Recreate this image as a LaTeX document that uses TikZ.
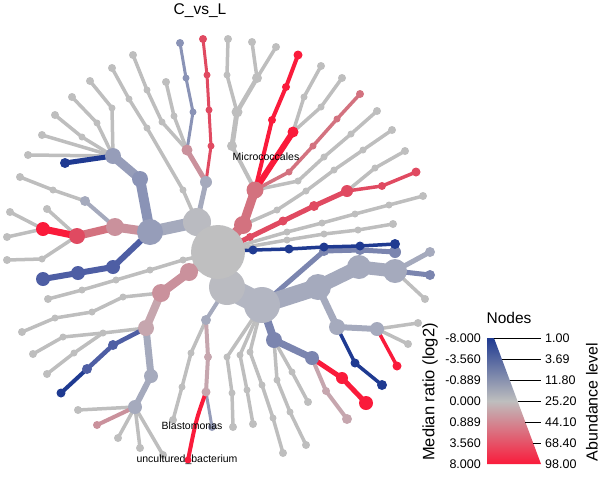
\documentclass[tikz,border=0pt]{standalone}
\usepackage{fontspec}
\setmainfont{Liberation Sans}
\usetikzlibrary{backgrounds}

\definecolor{cgray}{HTML}{BEBEBE}
\definecolor{croot}{HTML}{BFBFC0}
\definecolor{chubA}{HTML}{BABBC1}
\definecolor{chubB}{HTML}{B3B6C2}
\definecolor{cslA}{HTML}{A5AABD}
\definecolor{cslB}{HTML}{969DB9}
\definecolor{cslC}{HTML}{8A93B6}
\definecolor{cslD}{HTML}{7B85AF}
\definecolor{cblA}{HTML}{4E5EA4}
\definecolor{cblB}{HTML}{1F3A91}
\definecolor{cpkA}{HTML}{C6A6AE}
\definecolor{cpkB}{HTML}{CA919C}
\definecolor{cpkC}{HTML}{D3727F}
\definecolor{cpkD}{HTML}{E04A61}
\definecolor{cred}{HTML}{FA1B3B}

\tikzset{
  tn/.style={circle, fill=#1, inner sep=0pt, minimum size=7pt},
  lf/.style={tn=#1, minimum size=8pt},
  ed/.style={draw=#1, line width=3.5pt},
  tick/.style={draw=black, line width=0.8pt},
  lnum/.style={inner sep=0pt, font=\fontsize{12.5}{14}\selectfont},
  lbig/.style={inner sep=0pt, font=\fontsize{16.5}{19}\selectfont},
  tlab/.style={inner sep=0pt, font=\fontsize{10.5}{12}\selectfont},
}

\begin{document}
\begin{tikzpicture}[x=1pt,y=-1pt]
\useasboundingbox (0,0) rectangle (600,483);

\node[font=\fontsize{15.5}{18}\selectfont, anchor=base] (title) at (200,14) {C\_vs\_L};

% big hubs
\node[tn=chubA, minimum size=28pt] (a0) at (197,222) {};
\node[tn=chubA, minimum size=36pt] (b1) at (227,287) {};
\node[tn=croot, minimum size=54pt] (r0) at (218,252) {};
\node[tn=chubB, minimum size=36pt] (b2) at (262,305) {};

% upper left, under a0
\node[tn=cslA, minimum size=12pt] (a1) at (206,182) {};
\node[tn=cpkB, minimum size=11pt] (p1) at (187,150) {};
\node[tn=cslC] (p2) at (193,112) {}; \node[tn=cslC] (p3) at (186,78) {}; \node[lf=cslC] (p4) at (180,43) {};
\node[tn=cgray] (p5) at (174,116) {}; \node[lf=cgray] (p6) at (166,82) {};
\node[tn=cgray] (p7) at (162,122) {}; \node[tn=cgray] (p8) at (147,90) {}; \node[lf=cgray] (p9) at (133,55) {};
\node[tn=cpkD] (a2) at (211,146) {}; \node[tn=cpkD] (a3) at (209,110) {}; \node[tn=cpkD] (a4) at (207,75) {}; \node[lf=cpkD] (a5) at (203,39) {};
\node[tn=cgray] (a6) at (183,190) {}; \node[tn=cgray] (a7) at (147,128) {}; \node[tn=cgray] (a8) at (129,99) {}; \node[lf=cgray] (a9) at (112,68) {};

% left hub
\node[tn=cslB, minimum size=26pt] (l0) at (150,232) {};
\node[tn=cslC, minimum size=16pt] (u1) at (140,179) {};
\node[tn=cslB, minimum size=16pt] (u2) at (113,156) {};
\node[tn=cblB, minimum size=10pt] (u3) at (65,163) {};
\node[lf=cgray] (u4) at (28,155) {}; \node[lf=cgray] (u5) at (42,135) {};
\node[tn=cgray] (u6) at (82,137) {}; \node[lf=cgray] (u7) at (55,115) {};
\node[tn=cgray] (u8) at (97,123) {}; \node[lf=cgray] (u9) at (72,97) {};
\node[tn=cgray] (u10) at (112,108) {}; \node[lf=cgray] (u11) at (90,81) {};
\node[tn=cpkB, minimum size=18pt] (m1) at (115,227) {};
\node[tn=cpkD, minimum size=16pt] (m2) at (77,236) {};
\node[tn=cred, minimum size=14pt] (m3) at (43,229) {};
\node[lf=cgray] (m4) at (10,212) {}; \node[lf=cgray] (m5) at (7,237) {};
\node[lf=cgray] (m6) at (47,209) {};
\node[tn=cgray] (m7) at (42,259) {}; \node[lf=cgray] (m8) at (7,260) {};
\node[tn=cslA, minimum size=10pt] (m9) at (85,201) {};
\node[tn=cgray] (m10) at (53,190) {}; \node[lf=cgray] (m11) at (20,177) {};
\node[tn=cblA, minimum size=14pt] (d1) at (113,267) {};
\node[tn=cblA, minimum size=14pt] (d2) at (78,273) {};
\node[tn=cblA, minimum size=14pt] (d3) at (43,279) {};

% upper right, Micrococcales side
\node[tn=cpkC, minimum size=18pt] (q1) at (243,225) {};
\node[tn=cpkC, minimum size=17pt] (q2) at (255,190) {};
\node[tn=cred, minimum size=11pt] (q3) at (293,132) {};
\node[tn=cgray] (q4) at (304,97) {}; \node[lf=cgray] (q5) at (321,66) {};
\node[tn=cgray] (q6) at (321,107) {}; \node[lf=cgray] (q7) at (342,78) {};
\node[tn=cred, minimum size=8pt] (q8) at (272,120) {}; \node[tn=cred, minimum size=8pt] (q9) at (286,87) {}; \node[tn=cred, minimum size=9pt] (q10) at (298,55) {};
\node[tn=cpkC] (q11) at (289,172) {}; \node[tn=cpkC] (q12) at (313,146) {}; \node[tn=cpkC] (q13) at (337,119) {}; \node[lf=cpkC] (q14) at (360,94) {};
\node[tn=cgray] (q15) at (298,181) {}; \node[tn=cgray] (q16) at (324,157) {}; \node[tn=cgray] (q17) at (351,134) {}; \node[lf=cgray] (q18) at (377,111) {};
\node[tn=cgray] (q19) at (277,210) {}; \node[tn=cgray] (q20) at (306,191) {}; \node[tn=cgray] (q21) at (334,170) {}; \node[tn=cgray] (q22) at (363,150) {}; \node[lf=cgray] (q23) at (392,130) {};
\node[tn=cgray, minimum size=10pt] (t1) at (232,146) {};
\node[tn=cgray, minimum size=11pt] (t2) at (237,112) {};
\node[tn=cgray] (t3) at (227,75) {}; \node[lf=cgray] (t4) at (228,39) {};
\node[tn=cgray, minimum size=10pt] (t5) at (257,78) {}; \node[lf=cgray] (t6) at (252,42) {}; \node[lf=cgray] (t7) at (276,47) {};

% right, from root
\node[tn=cpkD, minimum size=8pt] (e1) at (250,237) {};
\node[tn=cpkD, minimum size=9pt] (e2) at (283,221) {};
\node[tn=cpkD, minimum size=10pt] (e3) at (314,206) {};
\node[tn=cpkD, minimum size=12pt] (e4) at (347,191) {};
\node[tn=cpkD, minimum size=8pt] (e5) at (382,186) {};
\node[tn=cpkD, minimum size=9pt] (e6) at (416,172) {};
\node[tn=cgray] (e7) at (375,168) {}; \node[lf=cgray] (e8) at (405,151) {};
\node[tn=cgray] (h1) at (287,232) {}; \node[tn=cgray] (h2) at (322,223) {}; \node[tn=cgray] (h3) at (355,214) {}; \node[tn=cgray] (h4) at (389,205) {}; \node[lf=cgray] (h5) at (423,196) {};
\node[tn=cgray] (h6) at (287,240) {}; \node[tn=cgray] (h7) at (324,234) {}; \node[tn=cgray] (h8) at (358,230) {}; \node[lf=cgray] (h9) at (393,224) {};
\node[tn=cslD, minimum size=10pt] (w1) at (324,251) {};
\node[tn=cslD, minimum size=10pt] (w2) at (360,250) {};
\node[tn=cslD, minimum size=12pt] (w3) at (395,252) {};
\node[tn=cblB, minimum size=9pt] (n1) at (253,250) {};
\node[tn=cblB, minimum size=9pt] (n2) at (289,249) {};
\node[tn=cblB, minimum size=9pt] (n3) at (324,247) {};
\node[tn=cblB, minimum size=9pt] (n4) at (360,246) {};
\node[tn=cblB, minimum size=10pt] (n5) at (395,244) {};

% lower right, under b2
\node[tn=cslA, minimum size=26pt] (s1) at (318,287) {};
\node[tn=cslA, minimum size=24pt] (s2) at (359,267) {};
\node[tn=cslA, minimum size=24pt] (s3) at (395,271) {};
\node[tn=cslA, minimum size=10pt] (s4) at (430,252) {};
\node[tn=cslD, minimum size=10pt] (s5) at (430,275) {};
\node[lf=cgray] (s6) at (425,299) {};
\node[tn=cslA, minimum size=16pt] (v1) at (337,327) {};
\node[tn=cslA, minimum size=14pt] (v2) at (377,329) {};
\node[tn=cred, minimum size=9pt] (v3) at (397,366) {};
\node[lf=cgray] (v4) at (418,323) {}; \node[lf=cgray] (v5) at (408,344) {};
\node[tn=cblB, minimum size=9pt] (v6) at (355,363) {};
\node[tn=cblB, minimum size=10pt] (v7) at (382,385) {};
\node[tn=cslD, minimum size=16pt] (o1) at (274,340) {};
\node[tn=cslD, minimum size=14pt] (o2) at (312,358) {};
\node[tn=cred, minimum size=12pt] (o3) at (342,378) {};
\node[tn=cred, minimum size=14pt] (o4) at (366,403) {};
\node[tn=cpkA, minimum size=8pt] (o5) at (326,391) {};
\node[tn=cpkA, minimum size=10pt] (o6) at (347,419) {};
\node[tn=cgray] (o7) at (277,380) {}; \node[tn=cgray] (o8) at (290,412) {}; \node[lf=cgray] (o9) at (306,445) {};
\node[tn=cgray] (o10) at (292,372) {}; \node[lf=cgray] (o11) at (308,402) {};
\node[tn=cgray] (f1) at (227,357) {}; \node[tn=cgray] (f2) at (232,393) {}; \node[lf=cgray] (f3) at (233,427) {};
\node[tn=cgray] (f4) at (240,355) {}; \node[tn=cgray] (f5) at (247,390) {}; \node[lf=cgray] (f6) at (253,424) {};
\node[tn=cgray] (f7) at (250,352) {}; \node[tn=cgray] (f8) at (262,385) {}; \node[tn=cgray] (f9) at (273,418) {}; \node[lf=cgray] (f10) at (283,453) {};

% bottom, under b1
\node[tn=cslA, minimum size=10pt] (c1) at (206,320) {};
\node[tn=cpkA, minimum size=8pt] (c2) at (208,357) {};
\node[tn=cpkA, minimum size=9pt] (c3) at (206,392) {};
\node[lf=cslB] (c4) at (212,427) {};
\node[tn=cred] (c5) at (188,460) {};
\node[tn=cgray] (c6) at (191,353) {}; \node[tn=cgray] (c7) at (182,387) {}; \node[lf=cgray] (c8) at (173,420) {};

% lower left
\node[tn=cpkB, minimum size=18pt] (g1) at (189,272) {};
\node[tn=cpkB, minimum size=18pt] (g2) at (161,293) {};
\node[tn=cpkA, minimum size=16pt] (g3) at (146,328) {};
\node[tn=cslA, minimum size=14pt] (g4) at (151,376) {};
\node[tn=cslA, minimum size=14pt] (g5) at (135,407) {};
\node[lf=cpkB] (g6) at (97,425) {};
\node[lf=cgray] (g7) at (78,410) {}; \node[lf=cgray] (g8) at (118,438) {}; \node[lf=cgray] (g9) at (140,448) {}; \node[lf=cgray] (g10) at (163,455) {};
\node[tn=cblA, minimum size=10pt] (g11) at (113,345) {};
\node[tn=cblA, minimum size=10pt] (g12) at (87,369) {};
\node[tn=cblB, minimum size=9pt] (g13) at (61,393) {};
\node[tn=cgray] (g14) at (103,333) {}; \node[tn=cgray] (g15) at (63,337) {}; \node[lf=cgray] (g16) at (33,354) {};
\node[tn=cgray] (g17) at (74,353) {}; \node[lf=cgray] (g18) at (47,374) {};
\node[tn=cgray] (g19) at (123,297) {}; \node[tn=cgray] (g20) at (92,312) {}; \node[tn=cgray] (g21) at (55,318) {}; \node[lf=cgray] (g22) at (22,332) {};
\node[tn=cgray] (g23) at (183,260) {}; \node[tn=cgray] (g24) at (150,270) {}; \node[tn=cgray] (g25) at (116,280) {}; \node[tn=cgray] (g26) at (82,290) {}; \node[lf=cgray] (g27) at (48,299) {};

\begin{scope}[on background layer]
% gray edges first
\draw[ed=cgray] (p1.center) -- (p5.center) -- (p6.center);
\draw[ed=cgray] (p1.center) -- (p7.center) -- (p8.center) -- (p9.center);
\draw[ed=cgray] (a0.center) -- (a6.center) -- (a7.center) -- (a8.center) -- (a9.center);
\draw[ed=cgray] (u2.center) -- (u4.center) (u2.center) -- (u5.center);
\draw[ed=cgray] (u2.center) -- (u6.center) -- (u7.center);
\draw[ed=cgray] (u2.center) -- (u8.center) -- (u9.center);
\draw[ed=cgray] (u2.center) -- (u10.center) -- (u11.center);
\draw[ed=cgray] (m3.center) -- (m4.center) (m3.center) -- (m5.center);
\draw[ed=cgray] (m2.center) -- (m6.center) (m2.center) -- (m7.center) -- (m8.center);
\draw[ed=cgray] (m9.center) -- (m10.center) -- (m11.center);
\draw[ed=cgray] (q3.center) -- (q4.center) -- (q5.center) (q3.center) -- (q6.center) -- (q7.center);
\draw[ed=cgray] (q2.center) -- (q15.center) -- (q16.center) -- (q17.center) -- (q18.center);
\draw[ed=cgray] (q1.center) -- (q19.center) -- (q20.center) -- (q21.center) -- (q22.center) -- (q23.center);
\draw[ed=cgray, line width=4pt] (q2.center) -- (t1.center);
\draw[ed=cgray, line width=5pt] (t1.center) -- (t2.center);
\draw[ed=cgray] (t2.center) -- (t3.center) -- (t4.center);
\draw[ed=cgray, line width=4.5pt] (t2.center) -- (t5.center);
\draw[ed=cgray] (t5.center) -- (t6.center) (t5.center) -- (t7.center);
\draw[ed=cgray] (e4.center) -- (e7.center) -- (e8.center);
\draw[ed=cgray] (r0.center) -- (h1.center) -- (h2.center) -- (h3.center) -- (h4.center) -- (h5.center);
\draw[ed=cgray] (r0.center) -- (h6.center) -- (h7.center) -- (h8.center) -- (h9.center);
\draw[ed=cgray] (s3.center) -- (s6.center);
\draw[ed=cgray] (v2.center) -- (v4.center) (v2.center) -- (v5.center);
\draw[ed=cgray] (o1.center) -- (o7.center) -- (o8.center) -- (o9.center);
\draw[ed=cgray] (o1.center) -- (o10.center) -- (o11.center);
\draw[ed=cgray] (b2.center) -- (f1.center) -- (f2.center) -- (f3.center);
\draw[ed=cgray] (b2.center) -- (f4.center) -- (f5.center) -- (f6.center);
\draw[ed=cgray] (b2.center) -- (f7.center) -- (f8.center) -- (f9.center) -- (f10.center);
\draw[ed=cgray] (c1.center) -- (c6.center) -- (c7.center) -- (c8.center);
\draw[ed=cgray] (g5.center) -- (g7.center) (g5.center) -- (g8.center) (g5.center) -- (g9.center) (g5.center) -- (g10.center);
\draw[ed=cgray] (g3.center) -- (g14.center) -- (g15.center) -- (g16.center);
\draw[ed=cgray] (g14.center) -- (g17.center) -- (g18.center);
\draw[ed=cgray] (g2.center) -- (g19.center) -- (g20.center) -- (g21.center) -- (g22.center);
\draw[ed=cgray] (r0.center) -- (g23.center) -- (g24.center) -- (g25.center) -- (g26.center) -- (g27.center);

% trunk and coloured edges
\draw[ed=chubA, line width=14pt] (r0.center) -- (a0.center);
\draw[ed=chubA, line width=22pt] (r0.center) -- (b1.center);
\draw[ed=chubB, line width=22pt] (b1.center) -- (b2.center);
\draw[ed=cslA, line width=5pt] (a0.center) -- (a1.center);
\draw[ed=cpkB, line width=5pt] (a1.center) -- (p1.center);
\draw[ed=cslC, line width=3pt] (p1.center) -- (p2.center) -- (p3.center) -- (p4.center);
\draw[ed=cpkD, line width=3pt] (a1.center) -- (a2.center) -- (a3.center) -- (a4.center) -- (a5.center);
\draw[ed=cslA, line width=12pt] (a0.center) -- (l0.center);
\draw[ed=cslC, line width=10pt] (l0.center) -- (u1.center);
\draw[ed=cslB, line width=9pt] (u1.center) -- (u2.center);
\draw[ed=cblB, line width=5pt] (u2.center) -- (u3.center);
\draw[ed=cpkB, line width=9pt] (l0.center) -- (m1.center);
\draw[ed=cpkC, line width=8pt] (m1.center) -- (m2.center);
\draw[ed=cred, line width=7pt] (m2.center) -- (m3.center);
\draw[ed=cslA, line width=4pt] (m1.center) -- (m9.center);
\draw[ed=cblA, line width=6pt] (l0.center) -- (d1.center) -- (d2.center) -- (d3.center);
\draw[ed=cpkC, line width=10pt] (r0.center) -- (q1.center);
\draw[ed=cpkC, line width=9pt] (q1.center) -- (q2.center);
\draw[ed=cred, line width=6pt] (q2.center) -- (q3.center);
\draw[ed=cred, line width=4pt] (q2.center) -- (q8.center) -- (q9.center) -- (q10.center);
\draw[ed=cpkC] (q2.center) -- (q11.center) -- (q12.center) -- (q13.center) -- (q14.center);
\draw[ed=cpkD, line width=5pt] (r0.center) -- (e1.center) -- (e2.center) -- (e3.center) -- (e4.center);
\draw[ed=cpkD] (e4.center) -- (e5.center) -- (e6.center);
\draw[ed=cslD, line width=5pt] (b2.center) -- (w1.center) -- (w2.center) -- (w3.center);
\draw[ed=cblB] (r0.center) -- (n1.center) -- (n2.center) -- (n3.center) -- (n4.center) -- (n5.center);
\draw[ed=cslA, line width=17pt] (b2.center) -- (s1.center);
\draw[ed=cslA, line width=14pt] (s1.center) -- (s2.center);
\draw[ed=cslA, line width=13pt] (s2.center) -- (s3.center);
\draw[ed=cslA, line width=5pt] (s3.center) -- (s4.center);
\draw[ed=cslD, line width=5pt] (s3.center) -- (s5.center);
\draw[ed=cslA, line width=7pt] (s1.center) -- (v1.center);
\draw[ed=cslA, line width=6pt] (v1.center) -- (v2.center);
\draw[ed=cred] (v2.center) -- (v3.center);
\draw[ed=cblB] (v1.center) -- (v6.center) -- (v7.center);
\draw[ed=cslD, line width=8pt] (b2.center) -- (o1.center);
\draw[ed=cslD, line width=7pt] (o1.center) -- (o2.center);
\draw[ed=cred, line width=5pt] (o2.center) -- (o3.center) -- (o4.center);
\draw[ed=cpkA, line width=4pt] (o2.center) -- (o5.center) -- (o6.center);
\draw[ed=cslA, line width=4pt] (b1.center) -- (c1.center);
\draw[ed=cpkA, line width=4pt] (c1.center) -- (c2.center) -- (c3.center);
\draw[ed=cslB, line width=3pt] (c3.center) -- (c4.center);
\draw[ed=cred, line width=4pt] (c3.center) .. controls (196,420) .. (c5.center);
\draw[ed=cpkB, line width=9pt] (r0.center) -- (g1.center) -- (g2.center);
\draw[ed=cpkA, line width=8pt] (g2.center) -- (g3.center);
\draw[ed=cslA, line width=7pt] (g3.center) -- (g4.center);
\draw[ed=cslA, line width=6pt] (g4.center) -- (g5.center);
\draw[ed=cpkB, line width=4pt] (g5.center) -- (g6.center);
\draw[ed=cblA, line width=4.5pt] (g3.center) -- (g11.center) -- (g12.center);
\draw[ed=cblB, line width=4pt] (g12.center) -- (g13.center);
\end{scope}

% taxon labels
\node[tlab] (lmicro) at (266,157) {Micrococcales};
\node[tlab] (lblast) at (192,426) {Blastomonas};
\node[tlab] (luncul) at (187,460) {uncultured\_bacterium};

% legend
\node[lbig, font=\fontsize{15.5}{18}\selectfont] (ntitle) at (509,318) {Nodes};
\shade[top color=cblB, bottom color=cred, middle color=cgray] (487,338) -- (494,338) -- (541,464) -- (487,464) -- cycle;
\foreach \y/\m/\a in {338/-8.000/1.00, 359/-3.560/3.69, 380/-0.889/11.80, 401/0.000/25.20, 422/0.889/44.10, 443/3.560/68.40, 464/8.000/98.00}{
  \draw[tick] ({494+47*(\y-338)/126},\y) -- (541,\y);
  \node[lnum, anchor=east] (ml\y) at (481,\y) {\m};
  \node[lnum, anchor=west] (al\y) at (545,\y) {\a};
}
\node[lbig, rotate=90] (medlab) at (430,392) {Median ratio (log2)};
\node[lbig, font=\fontsize{16}{19}\selectfont, rotate=90] (abulab) at (592,402) {Abundance level};
\end{tikzpicture}
\end{document}
